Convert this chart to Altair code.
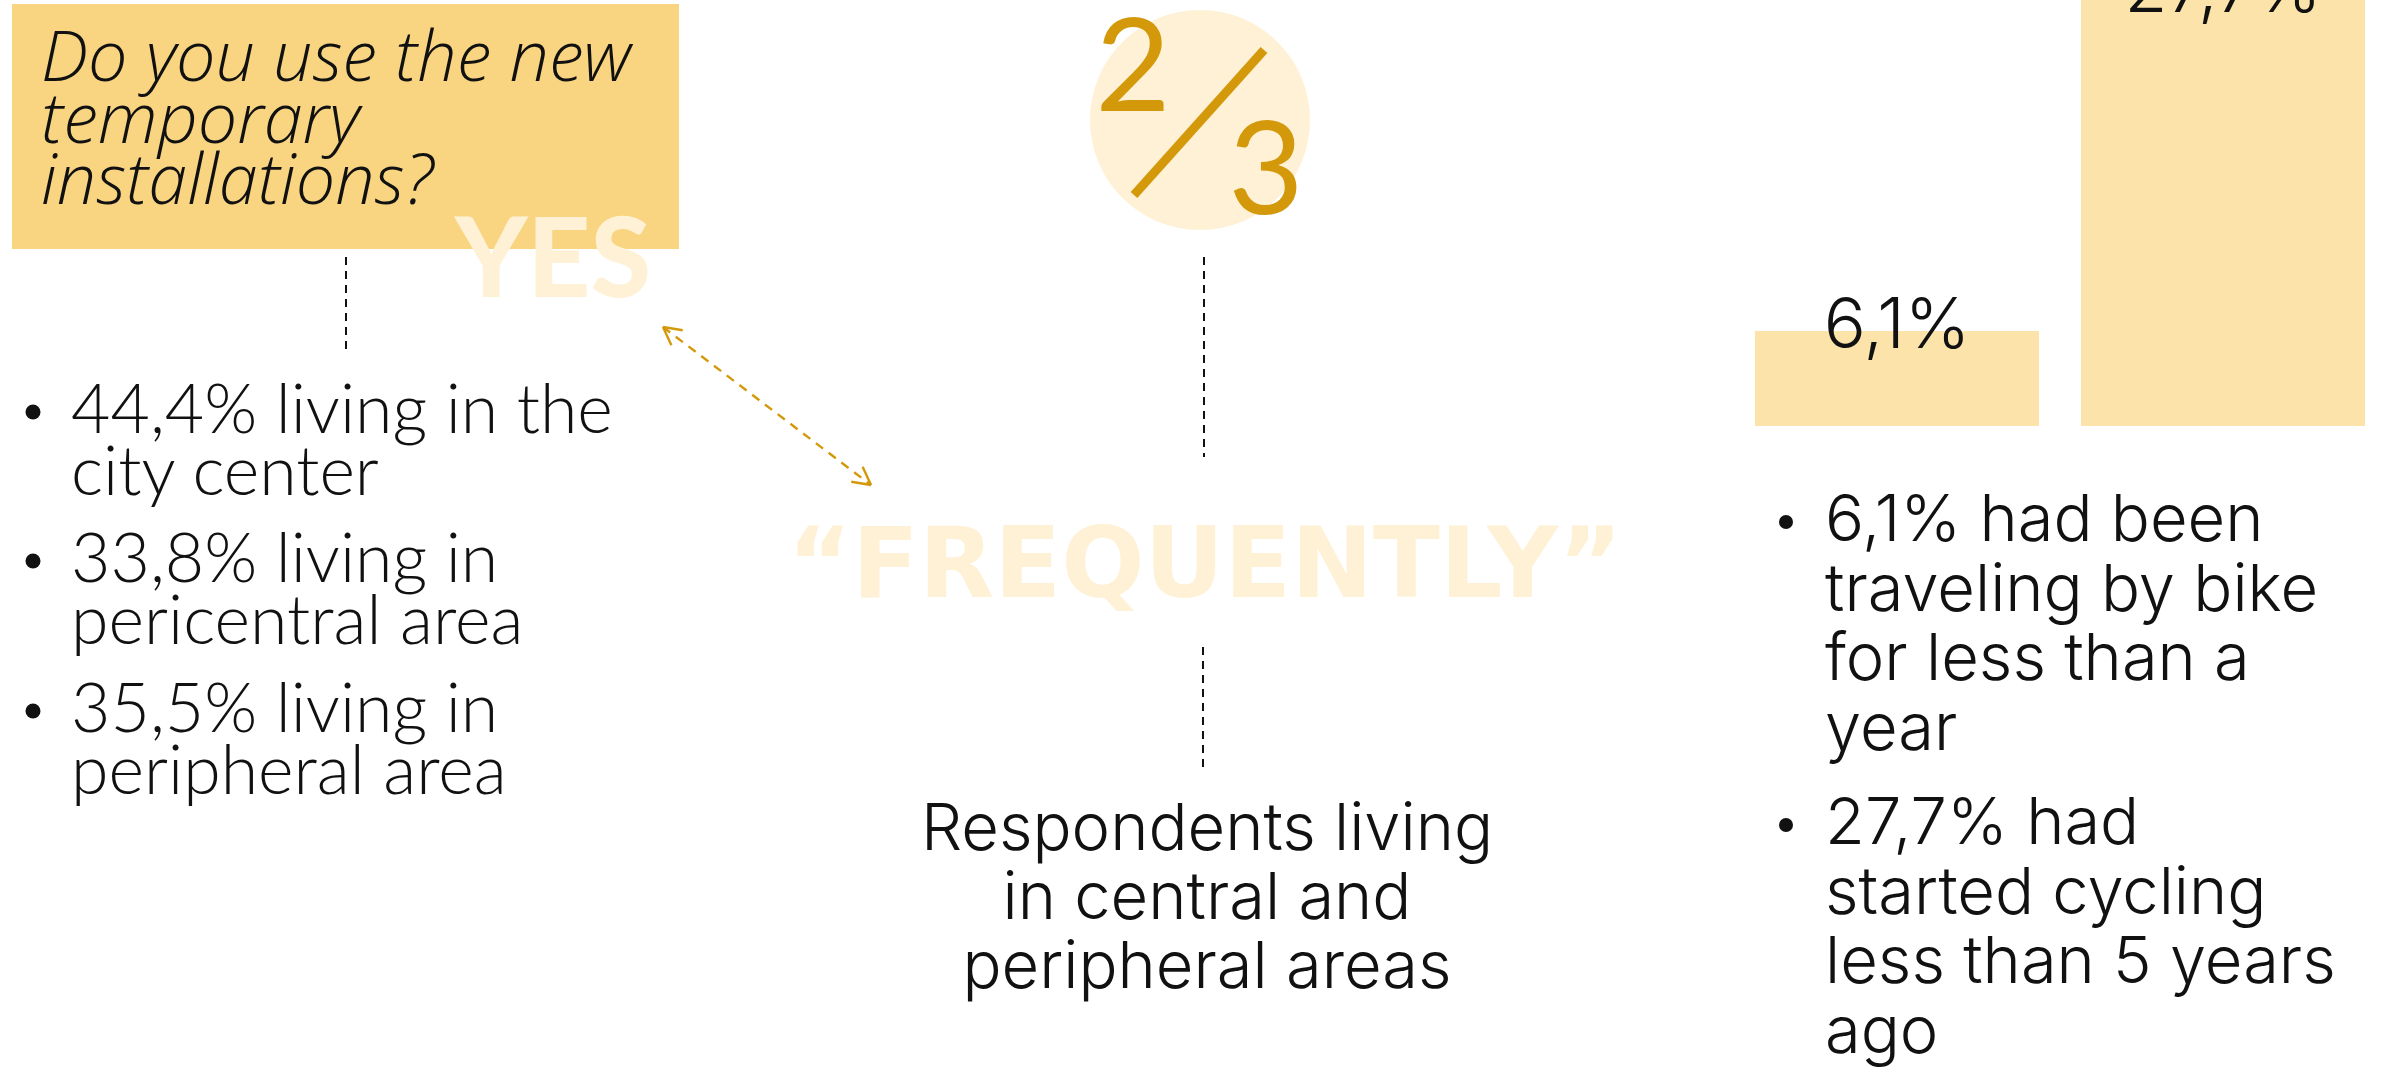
import math
import altair as alt
import pandas as pd

# ---------------- content (data) ----------------
question_lines = ["Do you use the new", "temporary", "installations?"]
yes_word = ["YES"]
frequently_word = ["\u201cFREQUENTLY\u201d"]
fraction_parts = ["2", "3"]
left_items = [
    ["44,4% living in the", "city center"],
    ["33,8% living in", "pericentral area"],
    ["35,5% living in", "peripheral area"],
]
center_lines = ["Respondents living", "in central and", "peripheral areas"]
bar_categories = ["less than a year", "less than 5 years ago"]
bar_values = [6.1, 27.7]
bar_labels = ["6,1%", "27,7%"]
right_items = [
    ["6,1% had been", "traveling by bike", "for less than a", "year"],
    ["27,7% had", "started cycling", "less than 5 years", "ago"],
]

# ---------------- layout & style ----------------
W, H = 2382, 1081
XS = alt.Scale(domain=[0, W], range=[0, W])
YS = alt.Scale(domain=[0, H], range=[0, H])

BOX = "#F9D582"
BAR = "#FBE3AA"
CREAM = "#FEF1D6"
GOLD = "#D4990B"
INK = "#111111"

box_pos = {"x": 12, "x2": 679, "y": 4, "y2": 249}
question_pos = (41, 81)
question_lh = 61.5
yes_pos = (553, 297)
freq_pos = (1205, 597)
circle_pos = (1200, 120)
circle_r = 110
frac_pos = [(1133, 111), (1266, 214)]
slash_pos = {"x": 1264, "y": 50, "x2": 1134, "y2": 195}
left_first = [433, 582, 732]
left_text_x, left_bullet_x, left_lh = 71, 33, 61.5
center_pos = (1207, 850)
center_lh = 69
right_first = [541, 844]
right_text_x, right_bullet_x, right_lh = 1825, 1786, 69.5
black_dashes = [
    {"x": 346, "y": 257, "x2": 346, "y2": 350},
    {"x": 1204, "y": 257, "x2": 1204, "y2": 457},
    {"x": 1203, "y": 647, "x2": 1203, "y2": 768},
]
arrow_a, arrow_b = (663, 327), (871, 485)
bar_range = [1755, 2365]
bar_pad = 0.1288
bar_px = [426, -5]
label_dy = 17


def xy_enc(extra=False):
    enc = dict(
        x=alt.X("x:Q", scale=XS, axis=None),
        y=alt.Y("y:Q", scale=YS, axis=None),
    )
    if extra:
        enc["x2"] = alt.X2("x2:Q")
        enc["y2"] = alt.Y2("y2:Q")
    return enc


def text_layer(rows, **kw):
    df = pd.DataFrame(rows)
    return alt.Chart(df).mark_text(lineBreak="\n", **kw).encode(
        text=alt.Text("t:N"), **xy_enc()
    )


def dot_layer(rows, diameter):
    return (
        alt.Chart(pd.DataFrame(rows))
        .mark_circle(color=INK, opacity=1, size=diameter ** 2)
        .encode(**xy_enc())
    )


layers = []

# question box
layers.append(
    alt.Chart(pd.DataFrame([box_pos])).mark_rect(color=BOX).encode(**xy_enc(True))
)
# YES
layers.append(
    text_layer(
        [{"x": yes_pos[0], "y": yes_pos[1], "t": yes_word[0]}],
        font="Lato", fontWeight=900, fontSize=110, color=CREAM,
        align="center", baseline="alphabetic",
    )
)
# question text
layers.append(
    text_layer(
        [{"x": question_pos[0], "y": question_pos[1], "t": "\n".join(question_lines)}],
        font="Open Sans", fontStyle="italic", fontWeight=300, fontSize=70,
        color=INK, align="left", baseline="alphabetic", lineHeight=question_lh,
    )
)
# black dashed connectors
layers.append(
    alt.Chart(pd.DataFrame(black_dashes))
    .mark_rule(color="#111111", strokeWidth=2, strokeDash=[8, 6])
    .encode(**xy_enc(True))
)
# orange double arrow
ax, ay = arrow_a
bx, by = arrow_b
L = math.hypot(bx - ax, by - ay)
ux, uy = (bx - ax) / L, (by - ay) / L
head = 20
segs = []
for ang in (math.radians(28), -math.radians(28)):
    c, s = math.cos(ang), math.sin(ang)
    rx, ry = ux * c - uy * s, ux * s + uy * c
    segs.append({"x": ax, "y": ay, "x2": ax + rx * head, "y2": ay + ry * head})
    segs.append({"x": bx, "y": by, "x2": bx - rx * head, "y2": by - ry * head})
layers.append(
    alt.Chart(pd.DataFrame([{"x": ax, "y": ay, "x2": bx, "y2": by}]))
    .mark_rule(color=GOLD, strokeWidth=2.4, strokeDash=[9, 7])
    .encode(**xy_enc(True))
)
layers.append(
    alt.Chart(pd.DataFrame(segs))
    .mark_rule(color=GOLD, strokeWidth=2.4)
    .encode(**xy_enc(True))
)
# circle + fraction
layers.append(
    alt.Chart(pd.DataFrame([{"x": circle_pos[0], "y": circle_pos[1]}]))
    .mark_circle(color=CREAM, opacity=1, size=(2 * circle_r) ** 2)
    .encode(**xy_enc())
)
layers.append(
    text_layer(
        [{"x": p[0], "y": p[1], "t": t} for p, t in zip(frac_pos, fraction_parts)],
        font="Lato", fontWeight=400, fontSize=130, color=GOLD,
        align="center", baseline="alphabetic",
    )
)
layers.append(
    alt.Chart(pd.DataFrame([slash_pos]))
    .mark_rule(color=GOLD, strokeWidth=9)
    .encode(**xy_enc(True))
)
# FREQUENTLY
layers.append(
    text_layer(
        [{"x": freq_pos[0], "y": freq_pos[1], "t": frequently_word[0]}],
        font="DejaVu Sans", fontWeight="bold", fontSize=98, color=CREAM,
        align="center", baseline="alphabetic",
    )
)
# left bullets
layers.append(
    text_layer(
        [{"x": left_text_x, "y": y, "t": "\n".join(lines)} for y, lines in zip(left_first, left_items)],
        font="Lato", fontWeight=300, fontSize=68, color=INK,
        align="left", baseline="alphabetic", lineHeight=left_lh,
    )
)
layers.append(dot_layer([{"x": left_bullet_x, "y": y - 21} for y in left_first], 15))
# center text
layers.append(
    text_layer(
        [{"x": center_pos[0], "y": center_pos[1], "t": "\n".join(center_lines)}],
        font="Inter", fontWeight=300, fontSize=65, color=INK,
        align="center", baseline="alphabetic", lineHeight=center_lh,
    )
)
# right bullets
layers.append(
    text_layer(
        [{"x": right_text_x, "y": y, "t": "\n".join(lines)} for y, lines in zip(right_first, right_items)],
        font="Inter", fontWeight=300, fontSize=65, color=INK,
        align="left", baseline="alphabetic", lineHeight=right_lh,
    )
)
layers.append(dot_layer([{"x": right_bullet_x, "y": y - 19} for y in right_first], 14))

pixel_layer = alt.layer(*layers)

# bars
bars_df = pd.DataFrame({"cat": bar_categories, "v": bar_values, "label": bar_labels})
bar_x = alt.X(
    "cat:N", sort=bar_categories, axis=None,
    scale=alt.Scale(range=bar_range, paddingInner=bar_pad, paddingOuter=0),
)
bar_y = alt.Scale(domain=[0, max(bar_values)], range=bar_px)
bars = alt.Chart(bars_df).mark_bar(color=BAR).encode(
    x=bar_x, y=alt.Y("v:Q", scale=bar_y, axis=None)
)
bar_text = alt.Chart(bars_df).mark_text(
    font="Inter", fontWeight=300, fontSize=70, color=INK,
    align="center", baseline="alphabetic", dy=label_dy,
).encode(x=bar_x, y=alt.Y("v:Q", scale=bar_y, axis=None), text="label:N")
bar_layer = alt.layer(bars, bar_text)

chart = (
    alt.layer(pixel_layer, bar_layer)
    .resolve_scale(x="independent", y="independent")
    .properties(width=W, height=H, padding=0, autosize="none", background="white")
    .configure_view(stroke=None)
)

chart.save("out.html", embed_options={"renderer": "svg", "actions": False})
